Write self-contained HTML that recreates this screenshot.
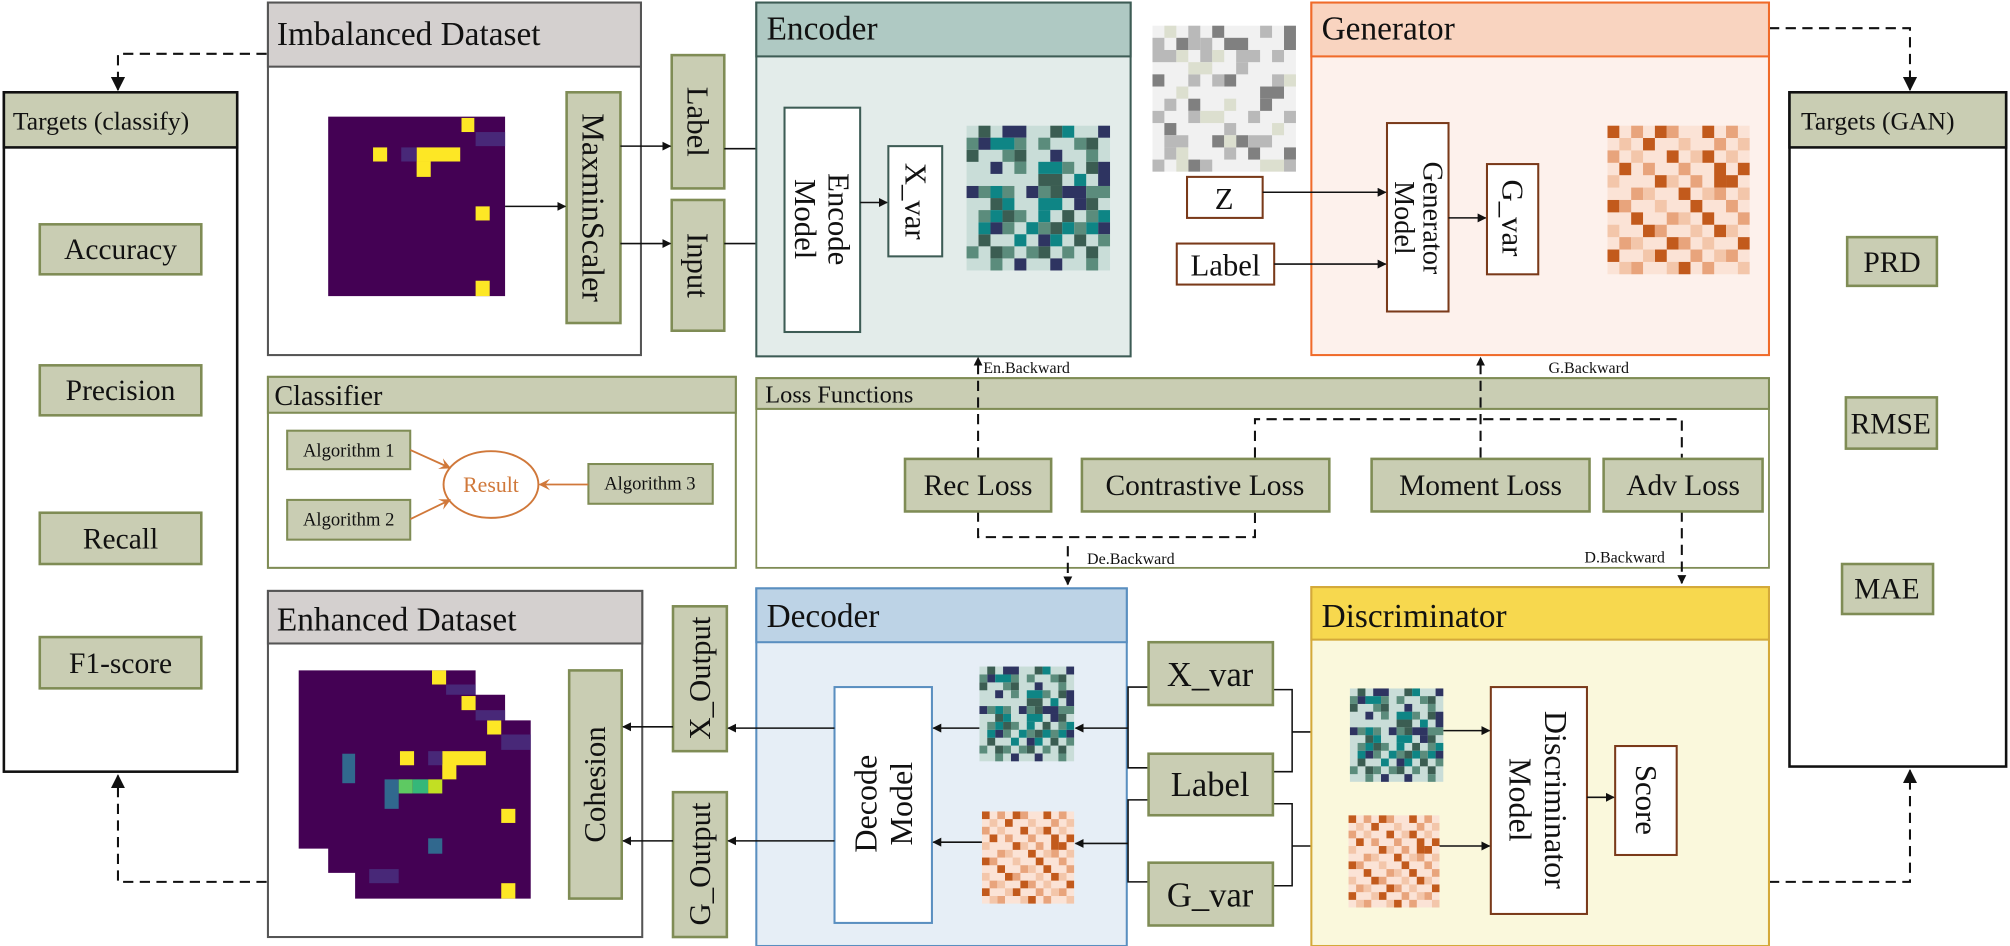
<!DOCTYPE html>
<html><head><meta charset="utf-8"><style>
html,body{margin:0;padding:0;background:#fff;}
svg{display:block;font-family:"Liberation Serif","DejaVu Serif",serif;}
svg text{font-family:"Liberation Serif","DejaVu Serif",serif;fill:#111;}
</style></head><body>
<svg width="2010" height="946" viewBox="0 0 1568 738" xmlns="http://www.w3.org/2000/svg" font-family="Liberation Serif, DejaVu Serif, serif">
<defs>
<marker id="ar" viewBox="0 0 10 10" refX="9" refY="5" markerWidth="7" markerHeight="7" orient="auto-start-reverse" markerUnits="userSpaceOnUse"><path d="M0,0 L10,5 L0,10 z" fill="#111"/></marker>
<marker id="ar2" viewBox="0 0 10 10" refX="9" refY="5" markerWidth="11" markerHeight="11" orient="auto" markerUnits="userSpaceOnUse"><path d="M0,0 L10,5 L0,10 z" fill="#111"/></marker>
<marker id="ao" viewBox="0 0 10 10" refX="9" refY="5" markerWidth="9" markerHeight="9" orient="auto" markerUnits="userSpaceOnUse"><path d="M0,0 L10,5 L0,10 L4,5 z" fill="#d0783a"/></marker>
<symbol id="teal" viewBox="0 0 12 12" preserveAspectRatio="none">
<rect width="12" height="12" fill="#c9ddd8"/>
<g fill="#3b5d52"><rect x="1" y="0" width="1" height="1"/><rect x="7" y="0" width="1" height="1"/><rect x="10" y="1" width="1" height="1"/><rect x="0" y="2" width="1" height="1"/><rect x="4" y="2" width="1" height="1"/><rect x="10" y="3" width="1" height="1"/><rect x="6" y="4" width="2" height="1"/><rect x="7" y="5" width="1" height="1"/><rect x="2" y="6" width="1" height="1"/><rect x="10" y="6" width="1" height="1"/><rect x="3" y="7" width="1" height="1"/><rect x="8" y="7" width="1" height="1"/><rect x="7" y="8" width="1" height="1"/><rect x="1" y="9" width="1" height="1"/><rect x="9" y="9" width="1" height="1"/><rect x="2" y="10" width="1" height="1"/><rect x="6" y="10" width="1" height="1"/><rect x="10" y="10" width="1" height="1"/></g>
<g fill="#2e3461"><rect x="3" y="0" width="2" height="1"/><rect x="11" y="0" width="1" height="1"/><rect x="1" y="1" width="1" height="1"/><rect x="7" y="2" width="1" height="1"/><rect x="2" y="3" width="1" height="1"/><rect x="11" y="3" width="1" height="2"/><rect x="0" y="5" width="1" height="1"/><rect x="5" y="5" width="1" height="1"/><rect x="8" y="5" width="2" height="1"/><rect x="9" y="6" width="1" height="1"/><rect x="2" y="8" width="1" height="1"/><rect x="11" y="8" width="1" height="1"/><rect x="6" y="9" width="1" height="1"/><rect x="4" y="11" width="1" height="1"/><rect x="7" y="11" width="1" height="1"/></g>
<g fill="#0e8585"><rect x="8" y="0" width="1" height="1"/><rect x="2" y="1" width="2" height="1"/><rect x="6" y="3" width="2" height="1"/><rect x="9" y="4" width="1" height="1"/><rect x="2" y="5" width="1" height="1"/><rect x="3" y="6" width="1" height="1"/><rect x="6" y="6" width="2" height="1"/><rect x="2" y="7" width="1" height="1"/><rect x="6" y="7" width="1" height="1"/><rect x="11" y="7" width="1" height="1"/><rect x="1" y="8" width="1" height="1"/><rect x="5" y="8" width="1" height="1"/><rect x="8" y="8" width="1" height="1"/><rect x="10" y="8" width="1" height="1"/><rect x="4" y="9" width="1" height="1"/><rect x="7" y="9" width="1" height="1"/></g>
<g fill="#5b8c7c"><rect x="0" y="1" width="1" height="1"/><rect x="4" y="1" width="1" height="1"/><rect x="6" y="1" width="1" height="1"/><rect x="9" y="1" width="1" height="1"/><rect x="3" y="2" width="1" height="1"/><rect x="10" y="2" width="1" height="1"/><rect x="4" y="3" width="1" height="1"/><rect x="8" y="3" width="1" height="1"/><rect x="1" y="5" width="1" height="1"/><rect x="3" y="5" width="1" height="1"/><rect x="6" y="5" width="1" height="1"/><rect x="10" y="5" width="2" height="1"/><rect x="1" y="7" width="1" height="1"/><rect x="4" y="7" width="1" height="1"/><rect x="10" y="7" width="1" height="1"/><rect x="3" y="8" width="1" height="1"/><rect x="6" y="8" width="1" height="1"/><rect x="9" y="8" width="1" height="1"/><rect x="11" y="9" width="1" height="1"/><rect x="0" y="10" width="1" height="1"/><rect x="3" y="10" width="1" height="1"/><rect x="5" y="10" width="1" height="1"/><rect x="8" y="10" width="1" height="1"/><rect x="2" y="11" width="1" height="1"/><rect x="10" y="11" width="1" height="1"/></g>
</symbol>
<symbol id="orng" viewBox="0 0 12 12" preserveAspectRatio="none">
<rect width="12" height="12" fill="#fbe3d6"/>
<g fill="#c25a1c"><rect x="0" y="0" width="1" height="1"/><rect x="4" y="0" width="1" height="1"/><rect x="8" y="0" width="1" height="1"/><rect x="3" y="1" width="1" height="1"/><rect x="5" y="2" width="1" height="1"/><rect x="8" y="2" width="1" height="1"/><rect x="1" y="3" width="1" height="1"/><rect x="9" y="3" width="1" height="2"/><rect x="11" y="3" width="1" height="1"/><rect x="4" y="4" width="1" height="1"/><rect x="10" y="4" width="1" height="1"/><rect x="6" y="5" width="1" height="1"/><rect x="0" y="6" width="1" height="1"/><rect x="7" y="6" width="1" height="1"/><rect x="2" y="7" width="1" height="1"/><rect x="8" y="7" width="1" height="1"/><rect x="3" y="8" width="1" height="1"/><rect x="9" y="8" width="1" height="1"/><rect x="5" y="9" width="1" height="1"/><rect x="11" y="9" width="1" height="1"/><rect x="0" y="10" width="1" height="1"/><rect x="4" y="10" width="1" height="1"/><rect x="6" y="11" width="1" height="1"/></g>
<g fill="#e8a47c"><rect x="2" y="0" width="1" height="1"/><rect x="5" y="0" width="1" height="1"/><rect x="10" y="0" width="1" height="1"/><rect x="9" y="1" width="1" height="1"/><rect x="0" y="2" width="1" height="1"/><rect x="3" y="3" width="1" height="1"/><rect x="6" y="3" width="1" height="1"/><rect x="7" y="4" width="1" height="1"/><rect x="2" y="5" width="1" height="1"/><rect x="9" y="5" width="1" height="1"/><rect x="1" y="6" width="1" height="1"/><rect x="10" y="6" width="1" height="1"/><rect x="5" y="7" width="1" height="1"/><rect x="11" y="7" width="1" height="1"/><rect x="4" y="8" width="1" height="1"/><rect x="1" y="9" width="1" height="1"/><rect x="6" y="9" width="1" height="1"/><rect x="7" y="10" width="1" height="1"/><rect x="10" y="10" width="1" height="1"/><rect x="2" y="11" width="1" height="1"/><rect x="8" y="11" width="1" height="1"/></g>
<g fill="#f3c6aa"><rect x="1" y="1" width="1" height="1"/><rect x="6" y="1" width="1" height="1"/><rect x="11" y="1" width="1" height="1"/><rect x="2" y="2" width="1" height="1"/><rect x="7" y="2" width="1" height="1"/><rect x="10" y="2" width="1" height="1"/><rect x="0" y="4" width="1" height="1"/><rect x="5" y="4" width="1" height="1"/><rect x="3" y="5" width="1" height="1"/><rect x="8" y="5" width="1" height="1"/><rect x="11" y="5" width="1" height="1"/><rect x="4" y="6" width="1" height="1"/><rect x="6" y="7" width="1" height="1"/><rect x="0" y="8" width="1" height="1"/><rect x="7" y="8" width="1" height="1"/><rect x="10" y="8" width="1" height="1"/><rect x="2" y="9" width="1" height="1"/><rect x="8" y="9" width="1" height="1"/><rect x="3" y="10" width="1" height="1"/><rect x="9" y="10" width="1" height="1"/><rect x="1" y="11" width="1" height="1"/><rect x="5" y="11" width="1" height="1"/><rect x="11" y="11" width="1" height="1"/></g>
</symbol>
<symbol id="gray" viewBox="0 0 12 12" preserveAspectRatio="none">
<rect width="12" height="12" fill="#f1f1f1"/>
<g fill="#808080"><rect x="5" y="0" width="1" height="1"/><rect x="11" y="0" width="1" height="2"/><rect x="2" y="1" width="1" height="1"/><rect x="6" y="1" width="2" height="1"/><rect x="0" y="4" width="1" height="1"/><rect x="6" y="4" width="1" height="1"/><rect x="9" y="5" width="2" height="1"/><rect x="9" y="6" width="1" height="1"/><rect x="3" y="6" width="1" height="1"/><rect x="1" y="8" width="1" height="1"/><rect x="5" y="9" width="1" height="1"/><rect x="7" y="9" width="1" height="1"/><rect x="8" y="10" width="1" height="1"/><rect x="11" y="10" width="1" height="1"/><rect x="3" y="11" width="1" height="1"/></g>
<g fill="#b9b9b9"><rect x="3" y="0" width="1" height="2"/><rect x="9" y="0" width="1" height="1"/><rect x="0" y="1" width="1" height="1"/><rect x="4" y="1" width="1" height="2"/><rect x="0" y="2" width="2" height="1"/><rect x="7" y="2" width="2" height="1"/><rect x="10" y="2" width="1" height="1"/><rect x="7" y="3" width="1" height="1"/><rect x="3" y="4" width="1" height="1"/><rect x="5" y="4" width="1" height="1"/><rect x="10" y="4" width="1" height="1"/><rect x="1" y="6" width="1" height="1"/><rect x="0" y="7" width="1" height="1"/><rect x="3" y="7" width="1" height="1"/><rect x="8" y="7" width="1" height="1"/><rect x="11" y="7" width="1" height="1"/><rect x="6" y="8" width="1" height="1"/><rect x="1" y="9" width="2" height="1"/><rect x="8" y="9" width="2" height="1"/><rect x="1" y="10" width="1" height="1"/><rect x="6" y="10" width="1" height="1"/><rect x="0" y="11" width="1" height="1"/><rect x="4" y="11" width="1" height="1"/><rect x="11" y="11" width="1" height="1"/></g>
<g fill="#dcdfcf"><rect x="1" y="0" width="1" height="1"/><rect x="2" y="2" width="1" height="1"/><rect x="5" y="2" width="1" height="1"/><rect x="3" y="3" width="2" height="1"/><rect x="11" y="4" width="1" height="1"/><rect x="2" y="5" width="1" height="1"/><rect x="6" y="6" width="1" height="1"/><rect x="4" y="7" width="2" height="1"/><rect x="10" y="8" width="1" height="1"/><rect x="6" y="9" width="1" height="1"/><rect x="2" y="10" width="1" height="2"/><rect x="9" y="11" width="2" height="1"/></g>
</symbol>
</defs>

<!-- dashed target arrows -->
<g fill="none" stroke="#111" stroke-width="1.6" stroke-dasharray="8 5">
<path d="M208,42 H92 V70" marker-end="url(#ar2)"/>
<path d="M208,688 H92 V605" marker-end="url(#ar2)"/>
<path d="M1380,22 H1490 V70" marker-end="url(#ar2)"/>
<path d="M1380,688 H1490 V601" marker-end="url(#ar2)"/>
</g>

<!-- Targets classify -->
<rect x="3" y="72" width="182" height="530" fill="#fff" stroke="#111" stroke-width="2"/>
<rect x="3" y="72" width="182" height="43" fill="#c9cdb3" stroke="#111" stroke-width="2"/>
<text x="10" y="101" font-size="20">Targets (classify)</text>
<g fill="#c9cdb3" stroke="#7f8c55" stroke-width="2">
<rect x="31" y="175" width="126" height="39"/><rect x="31" y="285" width="126" height="39"/><rect x="31" y="400" width="126" height="40"/><rect x="31" y="497" width="126" height="40"/>
</g>
<g font-size="23" text-anchor="middle"><text x="94" y="202">Accuracy</text><text x="94" y="312">Precision</text><text x="94" y="428">Recall</text><text x="94" y="525">F1-score</text></g>

<!-- Targets GAN -->
<rect x="1396" y="72" width="169" height="526" fill="#fff" stroke="#111" stroke-width="2"/>
<rect x="1396" y="72" width="169" height="43" fill="#c9cdb3" stroke="#111" stroke-width="2"/>
<text x="1405" y="101" font-size="20">Targets (GAN)</text>
<g fill="#c9cdb3" stroke="#7f8c55" stroke-width="2">
<rect x="1441" y="185" width="70" height="38"/><rect x="1440" y="310" width="71" height="40"/><rect x="1437" y="440" width="71" height="39"/>
</g>
<g font-size="23" text-anchor="middle"><text x="1476" y="212">PRD</text><text x="1475" y="338">RMSE</text><text x="1472" y="467">MAE</text></g>

<!-- Imbalanced Dataset -->
<rect x="209" y="2" width="291" height="275" fill="#fff" stroke="#555" stroke-width="1.6"/>
<rect x="209" y="2" width="291" height="50" fill="#d4d0cf" stroke="#555" stroke-width="1.6"/>
<text x="216" y="35" font-size="26">Imbalanced Dataset</text>
<rect x="256" y="91" width="138" height="140" fill="#440154"/>
<g fill="#fde725"><rect x="360" y="92" width="10" height="11"/><rect x="291" y="115" width="11" height="11"/><rect x="325" y="115" width="34" height="11"/><rect x="325" y="126" width="11" height="12"/><rect x="371" y="161" width="11" height="11"/><rect x="371" y="219" width="11" height="12"/></g>
<g fill="#482878"><rect x="371" y="103" width="23" height="11"/><rect x="313" y="115" width="12" height="11"/></g>
<rect x="442" y="72" width="42" height="180" fill="#c9cdb3" stroke="#7f8c55" stroke-width="2"/>
<text transform="translate(463,162) rotate(90)" font-size="25" text-anchor="middle" dominant-baseline="central">MaxminScaler</text>
<rect x="524" y="43" width="41" height="104" fill="#c9cdb3" stroke="#7f8c55" stroke-width="2"/>
<text transform="translate(544,95) rotate(90)" font-size="24" text-anchor="middle" dominant-baseline="central">Label</text>
<rect x="524" y="156" width="41" height="102" fill="#c9cdb3" stroke="#7f8c55" stroke-width="2"/>
<text transform="translate(544,207) rotate(90)" font-size="24" text-anchor="middle" dominant-baseline="central">Input</text>
<g stroke="#111" stroke-width="1.2" fill="none">
<path d="M394,161 H441" marker-end="url(#ar)"/>
<path d="M484,114 H523" marker-end="url(#ar)"/>
<path d="M484,190 H523" marker-end="url(#ar)"/>
<path d="M565,116 H611" marker-end="url(#ar)"/>
<path d="M565,190 H611" marker-end="url(#ar)"/>
</g>

<!-- Encoder -->
<rect x="590" y="2" width="292" height="276" fill="#e3ecea" stroke="#3d5c55" stroke-width="1.6"/>
<rect x="590" y="2" width="292" height="42" fill="#afc9c3" stroke="#3d5c55" stroke-width="1.6"/>
<text x="598" y="31" font-size="26">Encoder</text>
<rect x="612" y="84" width="59" height="175" fill="#fff" stroke="#3d5c55" stroke-width="1.6"/>
<g transform="translate(641,171) rotate(90)" font-size="24" text-anchor="middle" dominant-baseline="central"><text y="-13">Encode</text><text y="13">Model</text></g>
<path d="M671,158 H692" stroke="#111" stroke-width="1.2" marker-end="url(#ar)"/>
<rect x="693" y="114" width="42" height="86" fill="#fff" stroke="#3d5c55" stroke-width="1.6"/>
<text transform="translate(714,157) rotate(90)" font-size="24" text-anchor="middle" dominant-baseline="central">X_var</text>
<use href="#teal" x="754" y="98" width="112" height="113"/>

<!-- Gray noise, Z, Label -->
<use href="#gray" x="899" y="20" width="112" height="114"/>
<rect x="926" y="138" width="59" height="32" fill="#fff" stroke="#7a3a1a" stroke-width="1.6"/>
<text x="955" y="163" font-size="24" text-anchor="middle">Z</text>
<rect x="918" y="190" width="76" height="32" fill="#fff" stroke="#7a3a1a" stroke-width="1.6"/>
<text x="956" y="215" font-size="24" text-anchor="middle">Label</text>

<!-- Generator -->
<rect x="1023" y="2" width="357" height="275" fill="#fdf1ec" stroke="#f06b2a" stroke-width="1.6"/>
<rect x="1023" y="2" width="357" height="42" fill="#f9d4c0" stroke="#f06b2a" stroke-width="1.6"/>
<text x="1031" y="31" font-size="26">Generator</text>
<rect x="1082" y="96" width="48" height="147" fill="#fff" stroke="#7a3a1a" stroke-width="1.6"/>
<g transform="translate(1106,170) rotate(90)" font-size="22" text-anchor="middle" dominant-baseline="central"><text y="-11">Generator</text><text y="11">Model</text></g>
<g stroke="#111" stroke-width="1.2" fill="none">
<path d="M985,150 H1081" marker-end="url(#ar)"/>
<path d="M994,206 H1081" marker-end="url(#ar)"/>
<path d="M1130,170 H1159" marker-end="url(#ar)"/>
</g>
<rect x="1160" y="128" width="40" height="86" fill="#fff" stroke="#7a3a1a" stroke-width="1.6"/>
<text transform="translate(1180,170) rotate(90)" font-size="24" text-anchor="middle" dominant-baseline="central">G_var</text>
<use href="#orng" x="1254" y="98" width="111" height="116"/>

<!-- Classifier -->
<rect x="209" y="294" width="365" height="149" fill="#fff" stroke="#7f8c55" stroke-width="1.6"/>
<rect x="209" y="294" width="365" height="28" fill="#c9cdb3" stroke="#7f8c55" stroke-width="1.6"/>
<text x="214" y="316" font-size="22">Classifier</text>
<g fill="#c9cdb3" stroke="#7f8c55" stroke-width="1.6">
<rect x="224" y="336" width="96" height="30"/><rect x="224" y="390" width="96" height="31"/><rect x="459" y="362" width="97" height="31"/>
</g>
<g font-size="14.5" text-anchor="middle"><text x="272" y="356">Algorithm 1</text><text x="272" y="410">Algorithm 2</text><text x="507" y="382">Algorithm 3</text></g>
<ellipse cx="383" cy="378" rx="37" ry="26" fill="#fff" stroke="#d0783a" stroke-width="1.5"/>
<text x="383" y="384" font-size="17" text-anchor="middle" style="fill:#d0783a">Result</text>
<g stroke="#d0783a" stroke-width="1.4" fill="none">
<path d="M320,351 L351,365" marker-end="url(#ao)"/>
<path d="M320,405 L351,390" marker-end="url(#ao)"/>
<path d="M459,378 L421,378" marker-end="url(#ao)"/>
</g>

<!-- Loss functions -->
<rect x="590" y="295" width="790" height="148" fill="#fff" stroke="#7f8c55" stroke-width="1.4"/>
<rect x="590" y="295" width="790" height="24" fill="#c9cdb3" stroke="#7f8c55" stroke-width="1.6"/>
<text x="597" y="314" font-size="19">Loss Functions</text>
<g fill="none" stroke="#111" stroke-width="1.6" stroke-dasharray="8 5">
<path d="M763,357 V279" marker-end="url(#ar)"/>
<path d="M979,357 V327 H1312 V357"/>
<path d="M1155,357 V279" marker-end="url(#ar)"/>
<path d="M763,399 V419 H979 V399"/>
<path d="M833,426 V456" marker-end="url(#ar)"/>
<path d="M1312,399 V455" marker-end="url(#ar)"/>
</g>
<g fill="#c9cdb3" stroke="#7f8c55" stroke-width="2">
<rect x="706" y="358" width="114" height="41"/><rect x="844" y="358" width="193" height="41"/><rect x="1070" y="358" width="170" height="41"/><rect x="1251" y="358" width="124" height="41"/>
</g>
<g font-size="23" text-anchor="middle"><text x="763" y="386">Rec Loss</text><text x="940" y="386">Contrastive Loss</text><text x="1155" y="386">Moment Loss</text><text x="1313" y="386">Adv Loss</text></g>
<g font-size="12.5"><text x="767" y="291">En.Backward</text><text x="1208" y="291">G.Backward</text><text x="848" y="440">De.Backward</text><text x="1236" y="439">D.Backward</text></g>

<!-- Enhanced Dataset -->
<rect x="209" y="461" width="292" height="270" fill="#fff" stroke="#555" stroke-width="1.6"/>
<rect x="209" y="461" width="292" height="41" fill="#d4d0cf" stroke="#555" stroke-width="1.6"/>
<text x="216" y="492" font-size="26">Enhanced Dataset</text>
<polygon points="233,523 371,523 371,542 394,542 394,562 414,562 414,701 277,701 277,681 256,681 256,662 233,662" fill="#440154"/>
<g fill="#fde725"><rect x="337" y="523" width="11" height="11"/><rect x="360" y="543" width="11" height="11"/><rect x="380" y="562" width="11" height="11"/><rect x="312" y="586" width="11" height="11"/><rect x="345" y="586" width="34" height="11"/><rect x="345" y="596" width="11" height="12"/><rect x="391" y="631" width="11" height="11"/><rect x="391" y="689" width="11" height="12"/></g>
<g fill="#482878"><rect x="348" y="534" width="23" height="8"/><rect x="371" y="554" width="23" height="8"/><rect x="391" y="573" width="23" height="12"/><rect x="334" y="586" width="11" height="11"/><rect x="288" y="678" width="23" height="11"/></g>
<g fill="#31688e"><rect x="267" y="588" width="10" height="23"/><rect x="300" y="608" width="11" height="23"/><rect x="334" y="654" width="11" height="12"/></g>
<rect x="311" y="608" width="11" height="11" fill="#5ec962"/><rect x="322" y="608" width="12" height="11" fill="#35b779"/><rect x="334" y="608" width="11" height="11" fill="#c2df23"/>
<rect x="444" y="523" width="41" height="178" fill="#c9cdb3" stroke="#7f8c55" stroke-width="2"/>
<text transform="translate(464,612) rotate(-90)" font-size="24" text-anchor="middle" dominant-baseline="central">Cohesion</text>
<rect x="525" y="473" width="42" height="113" fill="#c9cdb3" stroke="#7f8c55" stroke-width="2"/>
<text transform="translate(546,529) rotate(-90)" font-size="24" text-anchor="middle" dominant-baseline="central">X_Output</text>
<rect x="525" y="618" width="42" height="113" fill="#c9cdb3" stroke="#7f8c55" stroke-width="2"/>
<text transform="translate(546,674) rotate(-90)" font-size="24" text-anchor="middle" dominant-baseline="central">G_Output</text>

<!-- Decoder -->
<rect x="590" y="459" width="289" height="279" fill="#e6eef6" stroke="#5a8fc0" stroke-width="1.6"/>
<rect x="590" y="459" width="289" height="42" fill="#bdd3e6" stroke="#5a8fc0" stroke-width="1.6"/>
<text x="598" y="489" font-size="26">Decoder</text>
<rect x="651" y="536" width="76" height="184" fill="#fff" stroke="#5a8fc0" stroke-width="1.6"/>
<g transform="translate(689,627) rotate(-90)" font-size="25" text-anchor="middle" dominant-baseline="central"><text y="-14">Decode</text><text y="14">Model</text></g>
<use href="#teal" x="764" y="520" width="74" height="74"/>
<use href="#orng" x="766" y="633" width="72" height="72"/>
<g stroke="#111" stroke-width="1.2" fill="none">
<path d="M651,568 H568" marker-end="url(#ar)"/>
<path d="M651,656 H568" marker-end="url(#ar)"/>
<path d="M525,567 H486" marker-end="url(#ar)"/>
<path d="M525,656 H486" marker-end="url(#ar)"/>
<path d="M764,568 H728" marker-end="url(#ar)"/>
<path d="M766,657 H728" marker-end="url(#ar)"/>
<path d="M880,568 H839" marker-end="url(#ar)"/>
<path d="M880,658 H839" marker-end="url(#ar)"/>
<path d="M896,536 H880 V599 H896"/>
<path d="M896,624 H880 V688 H896"/>
<path d="M993,538 H1008 V602 H993"/>
<path d="M993,627 H1008 V691 H993"/>
<path d="M1008,571 H1051" marker-end="url(#ar)"/>
<path d="M1008,660 H1051" marker-end="url(#ar)"/>
</g>
<g fill="#c9cdb3" stroke="#7f8c55" stroke-width="2">
<rect x="896" y="501" width="97" height="49"/><rect x="896" y="588" width="97" height="48"/><rect x="896" y="673" width="97" height="49"/>
</g>
<g font-size="27" text-anchor="middle"><text x="944" y="535">X_var</text><text x="944" y="621">Label</text><text x="944" y="707">G_var</text></g>

<!-- Discriminator -->
<rect x="1023" y="458" width="357" height="280" fill="#faf8dc" stroke="#d4a93a" stroke-width="1.6"/>
<rect x="1023" y="458" width="357" height="41" fill="#f7d84e" stroke="#d4a93a" stroke-width="1.6"/>
<text x="1031" y="489" font-size="26">Discriminator</text>
<use href="#teal" x="1053" y="537" width="73" height="73"/>
<use href="#orng" x="1052" y="636" width="71" height="72"/>
<rect x="1163" y="536" width="75" height="177" fill="#fff" stroke="#7a3a1a" stroke-width="1.6"/>
<g transform="translate(1200,624) rotate(90)" font-size="25" text-anchor="middle" dominant-baseline="central"><text y="-14">Discriminator</text><text y="14">Model</text></g>
<rect x="1260" y="582" width="48" height="85" fill="#fff" stroke="#7a3a1a" stroke-width="1.6"/>
<text transform="translate(1284,624) rotate(90)" font-size="24" text-anchor="middle" dominant-baseline="central">Score</text>
<g stroke="#111" stroke-width="1.2" fill="none">
<path d="M1126,570 H1162" marker-end="url(#ar)"/>
<path d="M1123,660 H1162" marker-end="url(#ar)"/>
<path d="M1238,622 H1259" marker-end="url(#ar)"/>
</g>
</svg>
</body></html>
